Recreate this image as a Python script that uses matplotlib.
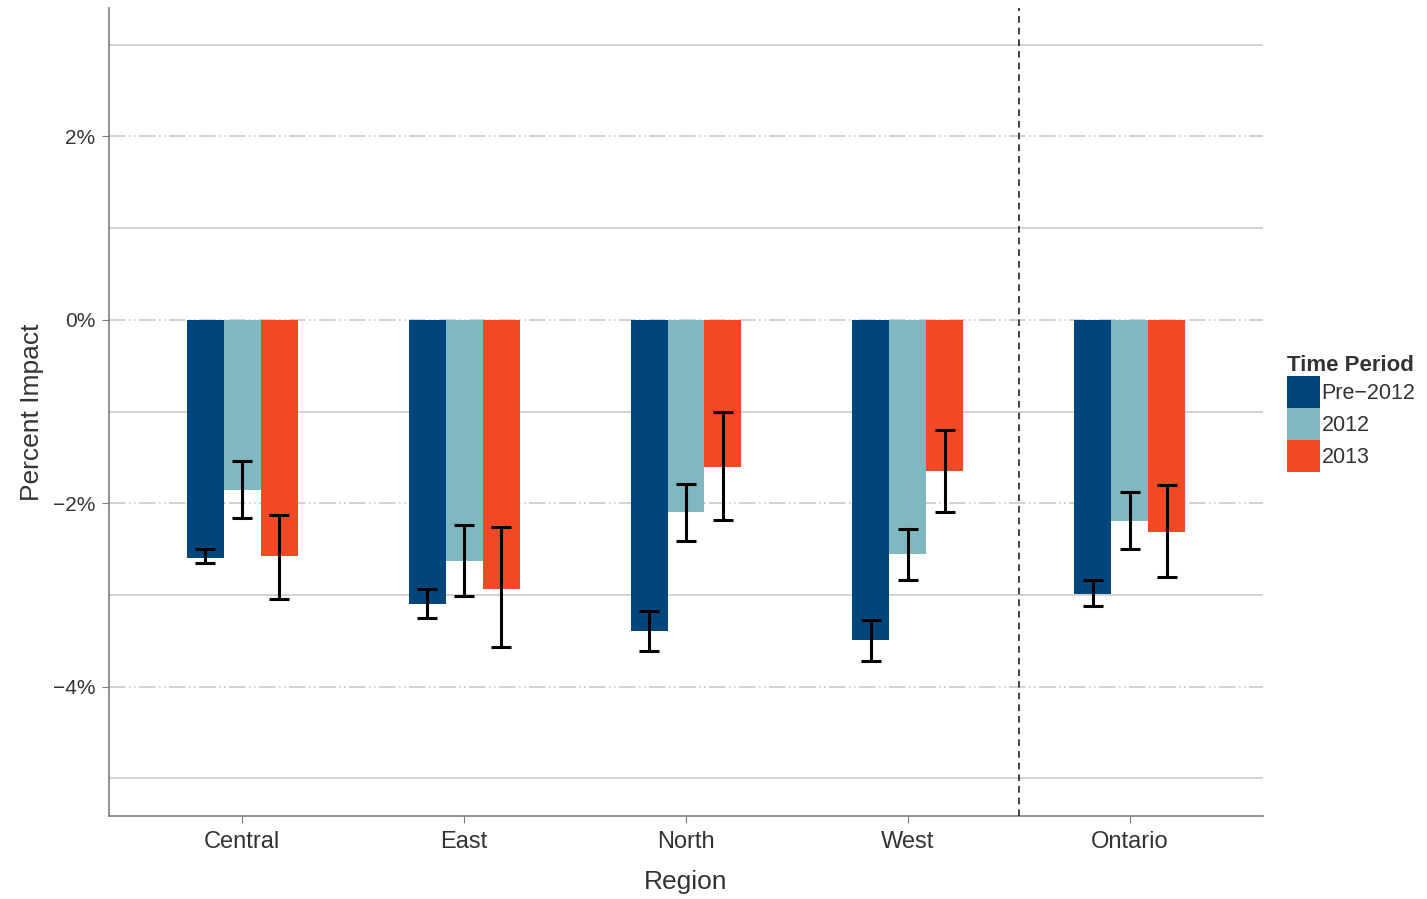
import numpy as np
import matplotlib.pyplot as plt
from matplotlib.patches import Patch

plt.rcParams['font.family'] = ['Liberation Sans', 'DejaVu Sans']

regions = ["Central", "East", "North", "West", "Ontario"]
periods = ["Pre\u22122012", "2012", "2013"]
colors = ["#00457c", "#7fb8c0", "#f04923"]

# percent impact per period (rows) and region (cols)
impact = [
    [-2.60, -3.10, -3.39, -3.49, -2.99],
    [-1.86, -2.63, -2.10, -2.55, -2.19],
    [-2.58, -2.93, -1.61, -1.65, -2.31],
]
err_low = [
    [-2.65, -3.25, -3.61, -3.72, -3.12],
    [-2.16, -3.01, -2.41, -2.84, -2.50],
    [-3.04, -3.57, -2.18, -2.09, -2.80],
]
err_high = [
    [-2.50, -2.93, -3.17, -3.27, -2.84],
    [-1.54, -2.24, -1.79, -2.28, -1.88],
    [-2.13, -2.26, -1.01, -1.20, -1.80],
]

fig = plt.figure(figsize=(14.27, 8.99), dpi=100)
ax = fig.add_axes([109 / 1427, 1 - 816 / 899, (1263 - 109) / 1427, (816 - 8) / 899])

x = np.arange(len(regions))
w = 0.5 / 3
for i in range(3):
    xs = x + (i - 1) * w
    vals = np.array(impact[i])
    lo = vals - np.array(err_low[i])
    hi = np.array(err_high[i]) - vals
    ax.bar(xs, vals, width=w, color=colors[i], zorder=2, label=periods[i])
    ax.errorbar(xs, vals, yerr=[lo, hi], fmt='none', ecolor='black',
                elinewidth=2.2, capsize=7, capthick=2.2, zorder=3)

ax.axvline(3.5, color='#222222', linestyle=(0, (4, 3)), linewidth=1.2, zorder=3)

ax.set_xlim(-0.6, 4.6)
ax.set_ylim(-5.41, 3.40)
ax.set_xticks(x)
ax.set_xticklabels(regions)
ax.set_yticks([-4, -2, 0, 2])
ax.set_yticklabels(["\u22124%", "\u22122%", "0%", "2%"])
ax.set_yticks([-5, -3, -1, 1, 3], minor=True)
ax.tick_params(axis='y', which='minor', length=0)
ax.tick_params(axis='both', which='major', length=5, color='#7f7f7f',
               labelcolor='#333333')
ax.tick_params(axis='x', labelsize=17, pad=6)
ax.tick_params(axis='y', labelsize=15, pad=5)

ax.grid(True, axis='y', which='major', color='#cccccc', linewidth=1.2,
        linestyle=(0, (10, 2, 1, 2, 1, 2)), zorder=0)
ax.grid(True, axis='y', which='minor', color='#cccccc', linewidth=1.2, zorder=0)

for s in ['top', 'right']:
    ax.spines[s].set_visible(False)
for s in ['left', 'bottom']:
    ax.spines[s].set_color('#7f7f7f')
    ax.spines[s].set_linewidth(1.2)

ax.set_xlabel("Region", fontsize=19, color='#333333', labelpad=12)
ax.set_ylabel("Percent Impact", fontsize=19, color='#333333', labelpad=6)

handles = [Patch(facecolor=c) for c in colors]
leg = ax.legend(handles, periods, title="Time Period", loc='upper left',
                bbox_to_anchor=(1.021, 0.57), frameon=False, fontsize=15.5,
                title_fontsize=16, handlelength=1.5, handleheight=1.91,
                handletextpad=0.1, labelspacing=0.0, borderaxespad=0,
                borderpad=0)
leg.get_title().set_fontweight('bold')
leg.get_title().set_color('#333333')
leg._legend_box.align = 'left'
for t in leg.get_texts():
    t.set_color('#333333')

fig.savefig("out.png", dpi=100)
